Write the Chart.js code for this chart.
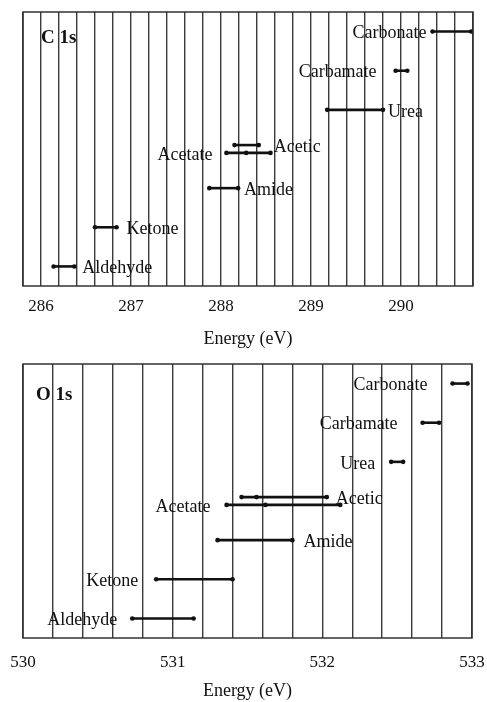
<!DOCTYPE html>
<html>
<head>
<meta charset="utf-8">
<script src="https://cdn.jsdelivr.net/npm/chart.js@4.4.1/dist/chart.umd.min.js"></script>
<style>
  html, body { margin: 0; padding: 0; background: #fff; }
  body { width: 487px; height: 702px; position: relative; overflow: hidden; }
  .panel { position: absolute; left: 0; width: 487px; }
  #top-panel { top: 0; height: 350px; }
  #bottom-panel { top: 350px; height: 352px; }
</style>
</head>
<body>
<div class="panel" id="top-panel"><canvas id="c1s"></canvas></div>
<div class="panel" id="bottom-panel"><canvas id="o1s"></canvas></div>
<script>
// groups, top to bottom
const groups = ['Carbonate', 'Carbamate', 'Urea', 'Acetic', 'Acetate', 'Amide', 'Ketone', 'Aldehyde'];
const rowPos = [0, 1, 2, 2.9, 3.1, 4, 5, 6];

// C 1s binding energy ranges (eV)
const cLow  = [290.35, 289.94, 289.18, 288.15, 288.06, 287.87, 286.60, 286.14];
const cMid  = [null, null, null, null, 288.28, null, null, null];
const cHigh = [290.78, 290.07, 289.80, 288.42, 288.55, 288.19, 286.84, 286.37];
const cTickLabels = [286, 287, 288, 289, 290];

// O 1s binding energy ranges (eV)
const oLow  = [532.87, 532.67, 532.46, 531.46, 531.36, 531.30, 530.89, 530.73];
const oMid  = [null, null, null, 531.56, 531.62, null, null, null];
const oHigh = [532.97, 532.78, 532.54, 532.03, 532.12, 531.80, 531.40, 531.14];
const oTickLabels = [530, 531, 532, 533];

const INK = '#111';
const GRID = '#3a3a3a';

// frame, group labels and panel title
const panelPlugin = {
  id: 'panel',
  afterDatasetsDraw(chart, args, opts) {
    const { ctx, chartArea: a, scales: { x, y } } = chart;
    ctx.save();
    ctx.strokeStyle = '#333';
    ctx.lineWidth = 1.5;
    ctx.strokeRect(a.left, a.top, a.right - a.left, a.bottom - a.top);

    ctx.fillStyle = INK;
    ctx.font = '18px "Liberation Serif"';
    ctx.textBaseline = 'middle';
    groups.forEach((name, i) => {
      const py = y.getPixelForValue(rowPos[i]) + 2;
      if (opts.side[i] === 'L') {
        ctx.textAlign = 'right';
        ctx.fillText(name, x.getPixelForValue(opts.low[i]) - opts.gap[i], py);
      } else {
        ctx.textAlign = 'left';
        ctx.fillText(name, x.getPixelForValue(opts.high[i]) + opts.gap[i], py);
      }
    });

    ctx.font = 'bold 19px "Liberation Serif"';
    ctx.textAlign = 'left';
    ctx.fillText(opts.title, a.left + opts.titleDx, a.top + opts.titleDy);
    ctx.restore();
  }
};

function makeChart(id, p) {
  const datasets = groups.map((g, i) => {
    const pts = [{ x: p.low[i], y: rowPos[i] }];
    if (p.mid[i] !== null) pts.push({ x: p.mid[i], y: rowPos[i] });
    pts.push({ x: p.high[i], y: rowPos[i] });
    return {
      label: g,
      data: pts,
      borderColor: INK,
      backgroundColor: INK,
      borderWidth: 2.6,
      pointRadius: 2.3,
      pointBorderWidth: 0,
      pointBackgroundColor: INK,
      showLine: true,
      tension: 0
    };
  });

  return new Chart(document.getElementById(id), {
    type: 'scatter',
    data: { datasets },
    plugins: [panelPlugin],
    options: {
      responsive: true,
      maintainAspectRatio: false,
      animation: false,
      layout: { padding: p.padding },
      plugins: {
        legend: { display: false },
        tooltip: { enabled: false },
        panel: {
          low: p.low, high: p.high, side: p.side, gap: p.gap,
          title: p.title, titleDx: p.titleDx, titleDy: p.titleDy
        }
      },
      scales: {
        x: {
          type: 'linear',
          min: p.min,
          max: p.max,
          afterBuildTicks: (scale) => {
            const n = Math.round((p.max - p.min) / 0.2);
            const t = [];
            for (let i = 0; i <= n; i++) t.push({ value: +(p.min + i * 0.2).toFixed(1) });
            scale.ticks = t;
          },
          afterFit: (scale) => {
            scale.height = 64;
            scale.paddingLeft = 0;
            scale.paddingRight = 0;
          },
          grid: { color: GRID, lineWidth: 1.4, drawTicks: false },
          border: { display: false },
          ticks: {
            autoSkip: false,
            maxRotation: 0,
            padding: p.tickPad,
            color: INK,
            font: { family: 'Liberation Serif', size: 17 },
            callback: (v) => {
              const r = Math.round(v);
              return (Math.abs(v - r) < 1e-6 && p.tickLabels.includes(r)) ? String(r) : '';
            }
          },
          title: {
            display: true,
            text: 'Energy (eV)',
            color: INK,
            font: { family: 'Liberation Serif', size: 18 },
            padding: { top: 0, bottom: 0 }
          }
        },
        y: {
          type: 'linear',
          reverse: true,
          min: -0.5,
          max: 6.5,
          display: false
        }
      }
    }
  });
}

makeChart('c1s', {
  low: cLow, mid: cMid, high: cHigh, tickLabels: cTickLabels,
  min: 285.8, max: 290.8,
  side: ['L', 'L', 'R', 'R', 'L', 'R', 'R', 'R'],
  gap: [6, 19, 5, 15, 14, 6, 10, 8],
  title: 'C 1s', titleDx: 18, titleDy: 26,
  padding: { top: 12, left: 23, right: 14, bottom: 0 },
  tickPad: 10
});

makeChart('o1s', {
  low: oLow, mid: oMid, high: oHigh, tickLabels: oTickLabels,
  min: 530, max: 533,
  side: ['L', 'L', 'L', 'R', 'L', 'R', 'L', 'L'],
  gap: [25, 25, 16, 9, 16, 11, 18, 15],
  title: 'O 1s', titleDx: 13, titleDy: 31,
  padding: { top: 14, left: 23, right: 15, bottom: 0 },
  tickPad: 14
});
</script>
</body>
</html>
